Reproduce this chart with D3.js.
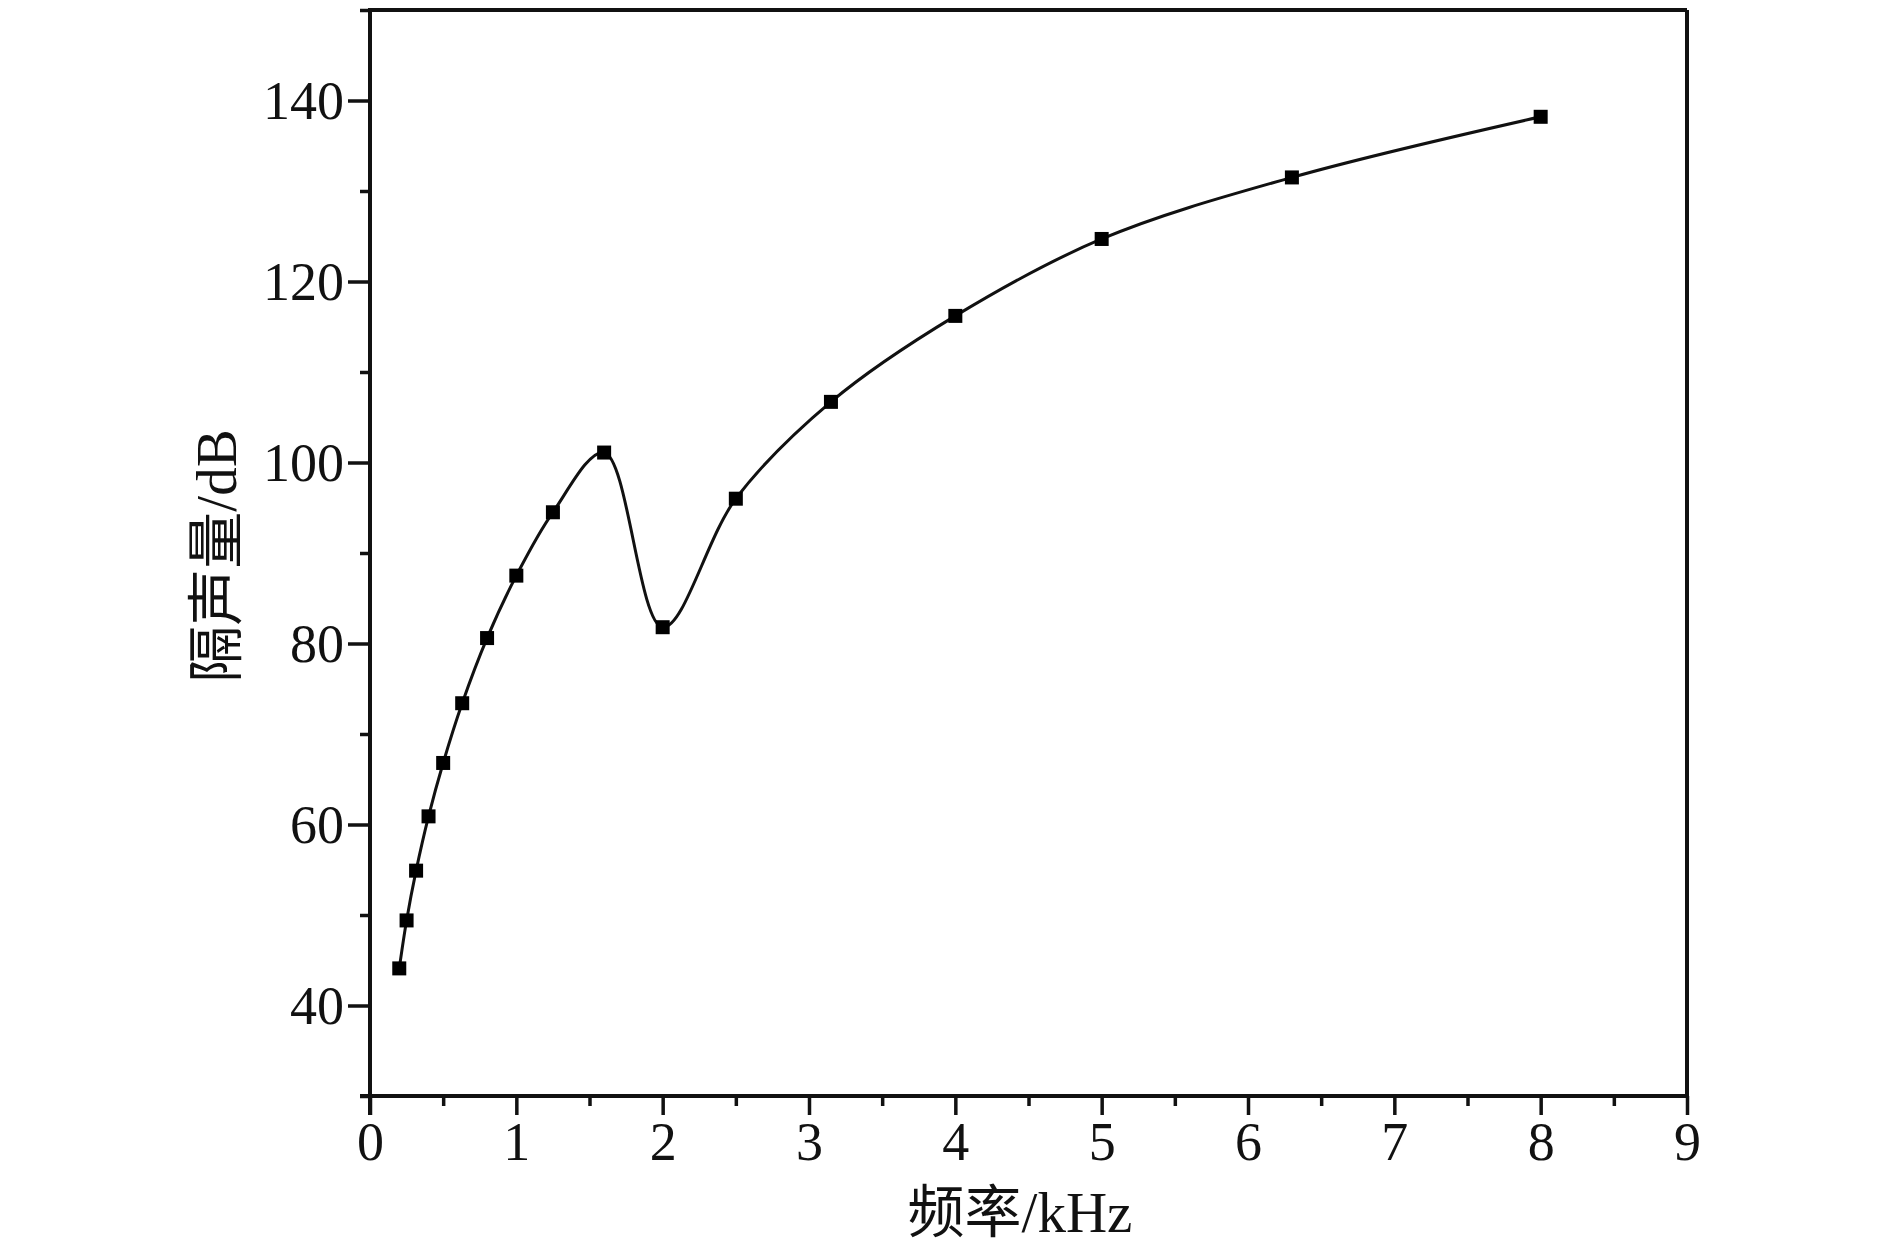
<!DOCTYPE html>
<html>
<head>
<meta charset="utf-8">
<script src="https://cdn.jsdelivr.net/npm/d3@7"></script>
<style>
html,body{margin:0;padding:0;background:#fff;}
svg{display:block;}
</style>
</head>
<body>
<svg id="chart" width="1890" height="1247"></svg>
<script>
const frequency = [0.2, 0.25, 0.315, 0.4, 0.5, 0.63, 0.8, 1.0, 1.25, 1.6, 2.0, 2.5, 3.15, 4.0, 5.0, 6.3, 8.0];
const insulation = [44.1, 49.4, 54.9, 60.9, 66.8, 73.4, 80.6, 87.5, 94.5, 101.1, 81.8, 96.0, 106.7, 116.2, 124.7, 131.5, 138.2];
const xTicks = [0,1,2,3,4,5,6,7,8,9];
const xMinor = [0.5,1.5,2.5,3.5,4.5,5.5,6.5,7.5,8.5];
const yTicks = [40,60,80,100,120,140];
const yMinor = [30,50,70,90,110,130,150];
const xTitle = "频率/kHz";
const yTitle = "隔声量/dB";

const L = 370, R = 1687, T = 10, B = 1096;
const svg = d3.select("#chart");
const x = d3.scaleLinear().domain([0, 9]).range([L, R]);
const y = d3.scaleLinear().domain([30, 150]).range([B, T]);
const serif = "'Liberation Serif','Times New Roman',serif";
const cjk = "'Liberation Serif','Noto Sans CJK SC',serif";

// frame top/right
svg.append("line").attr("x1", L).attr("x2", R).attr("y1", T).attr("y2", T)
  .attr("stroke", "#111").attr("stroke-width", 4);
svg.append("line").attr("x1", R).attr("x2", R).attr("y1", T).attr("y2", B)
  .attr("stroke", "#111").attr("stroke-width", 4);

// x axis
const gx = svg.append("g").attr("transform", `translate(0,${B})`);
gx.call(d3.axisBottom(x).tickValues(xMinor).tickSize(10).tickFormat(""));
gx.call(g => g.select(".domain").remove());
const gx2 = svg.append("g").attr("transform", `translate(0,${B})`)
  .call(d3.axisBottom(x).tickValues(xTicks).tickSize(19).tickSizeOuter(0).tickPadding(8).tickFormat(d3.format("d")));
[gx, gx2].forEach(g => {
  g.selectAll(".tick line").attr("stroke", "#111").attr("stroke-width", 3.5);
});
gx2.select(".domain").attr("stroke", "#111").attr("stroke-width", 4)
  .attr("d", `M${L-10},0H${R}`);
gx2.selectAll(".tick text").attr("font-family", serif).attr("font-size", 54)
  .attr("fill", "#111").attr("y", 64).attr("dy", 0);

// y axis
const gy = svg.append("g").attr("transform", `translate(${L},0)`);
gy.call(d3.axisLeft(y).tickValues(yMinor).tickSize(10).tickFormat(""));
gy.call(g => g.select(".domain").remove());
const gy2 = svg.append("g").attr("transform", `translate(${L},0)`)
  .call(d3.axisLeft(y).tickValues(yTicks).tickSize(22).tickSizeOuter(0).tickPadding(4).tickFormat(d3.format("d")));
[gy, gy2].forEach(g => {
  g.selectAll(".tick line").attr("stroke", "#111").attr("stroke-width", 3.5);
});
gy2.select(".domain").attr("stroke", "#111").attr("stroke-width", 4)
  .attr("d", `M0,${T-2}V${B+19}`);
gy2.selectAll(".tick text").attr("font-family", serif).attr("font-size", 54)
  .attr("fill", "#111").attr("x", -26).attr("dy", "0.34em");

// curve
const pts = frequency.map((f, i) => [f, insulation[i]]);
const line = d3.line().x(d => x(d[0])).y(d => y(d[1])).curve(d3.curveCatmullRom.alpha(0.5));
svg.append("path").datum(pts).attr("d", line)
  .attr("fill", "none").attr("stroke", "#111").attr("stroke-width", 3);

// markers
const ms = 14;
svg.append("g").selectAll("rect").data(pts).join("rect")
  .attr("x", d => x(d[0]) - ms/2).attr("y", d => y(d[1]) - ms/2)
  .attr("width", ms).attr("height", ms).attr("fill", "#000");

// titles
svg.append("text").attr("x", 1020).attr("y", 1232).attr("text-anchor", "middle")
  .attr("font-family", cjk).attr("font-size", 57).attr("fill", "#111").text(xTitle);
svg.append("text").attr("transform", "translate(216,556) rotate(-90)")
  .attr("text-anchor", "middle").attr("dy", "0.35em")
  .attr("font-family", cjk).attr("font-size", 57).attr("fill", "#111").text(yTitle);
</script>
</body>
</html>
